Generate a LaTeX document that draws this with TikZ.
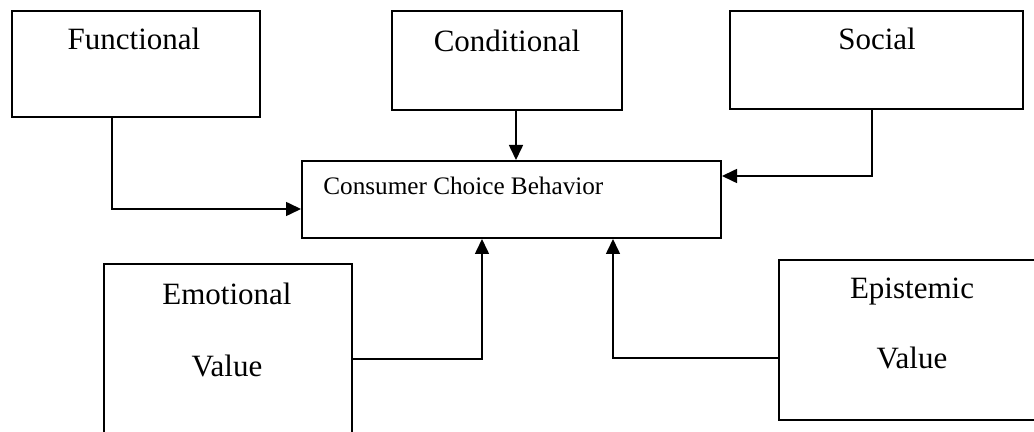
\documentclass[tikz,border=0pt]{standalone}
\usepackage{fontspec}
\setmainfont{Liberation Serif}
\usetikzlibrary{arrows.meta}
\tikzstyle{valeur}=[rectangle,draw,line width=1pt,inner sep=0pt]
\tikzstyle{choix}=[rectangle,draw,line width=1pt,inner sep=0pt,
minimum width=209.5pt,minimum height=38.5pt]
\tikzstyle{titre}=[anchor=base,inner sep=0pt,font=\fontsize{15.5}{18}\selectfont]
\tikzstyle{suite}=[-{Triangle[length=7.5pt,width=7pt]},line width=0.8pt]

\begin{document}
\begin{tikzpicture}[x=0.5pt,y=-0.5pt]
\clip (0,0) rectangle (1034,432);
\node[valeur,minimum width=124pt,minimum height=53pt] (fun) at (136,64) {};
\node[valeur,minimum width=115pt,minimum height=49.5pt] (cond) at (507,60.5) {};
\node[valeur,minimum width=146.5pt,minimum height=49pt] (soc) at (876.5,60) {};
\node[choix] (ccb) at (511.5,199.5) {};
\node[valeur,minimum width=124pt,minimum height=95pt] (emo) at (228,359) {};
\node[valeur,minimum width=130.5pt,minimum height=80pt] (epi) at (909.5,340) {};
%texte des cases
\node[titre] (a) at (134,50) {Functional};
\node[titre] (b) at (507,52) {Conditional};
\node[titre] (c) at (877,50) {Social};
\node[titre,anchor=base west,font=\fontsize{12.6}{15}\selectfont] (d) at (323,195) {Consumer Choice Behavior};
\node[titre] (e) at (227,305) {Emotional};
\node[titre] (e2) at (227,377) {Value};
\node[titre] (f) at (912,299) {Epistemic};
\node[titre] (f2) at (912,369) {Value};
%fleches
\draw[suite] ([xshift=-12pt]fun.south) |- ([yshift=-4.75pt]ccb.west);
\draw[suite] ([xshift=4.5pt]cond.south) -- ([xshift=2.25pt]ccb.north);
\draw[suite] ([xshift=-2.25pt]soc.south) |- ([yshift=11.75pt]ccb.east);
\draw[suite] (emo.east) -| ([xshift=-14.75pt]ccb.south);
\draw[suite] ([yshift=-9pt]epi.west) -| ([xshift=50.75pt]ccb.south);
\end{tikzpicture}
\end{document}
